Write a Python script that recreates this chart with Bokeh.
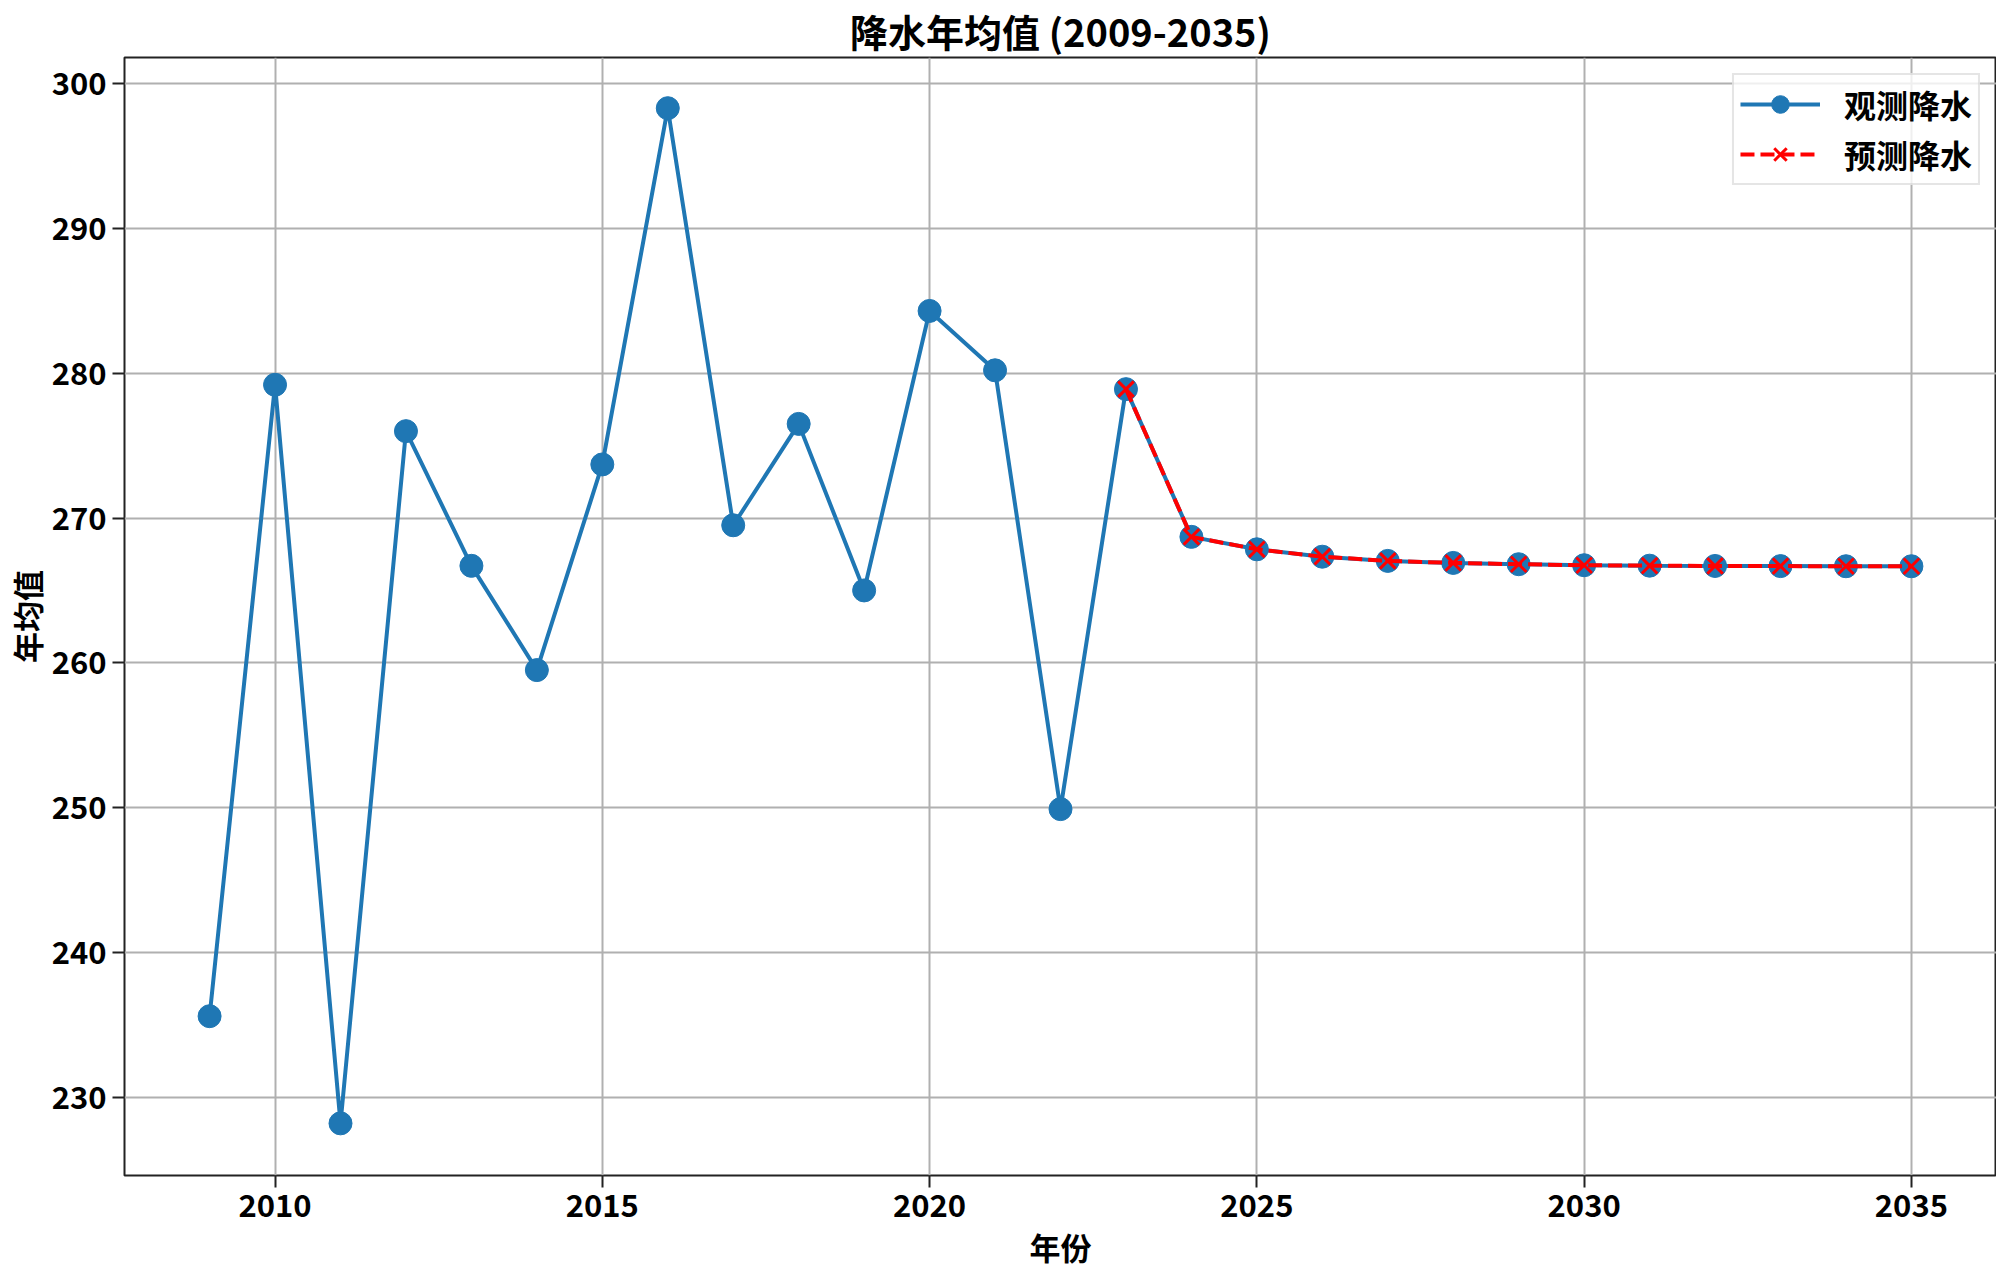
from bokeh.plotting import figure
from bokeh.models import FixedTicker, Range1d, Legend, LegendItem
from bokeh.embed import file_html
from bokeh.resources import INLINE

years_obs = list(range(2009, 2036))
precip_obs = [235.6, 279.2, 228.2, 276.0, 266.7, 259.5, 273.7, 298.3, 269.5,
              276.5, 265.0, 284.3, 280.2, 249.9, 278.9, 268.7, 267.84, 267.33,
              267.04, 266.9, 266.81, 266.74, 266.71, 266.69, 266.68, 266.67, 266.67]
years_fc = list(range(2023, 2036))
precip_fc = [278.9, 268.7, 267.84, 267.33, 267.04, 266.9, 266.81, 266.74,
             266.71, 266.69, 266.68, 266.67, 266.67]
x_ticks = [2010, 2015, 2020, 2025, 2030, 2035]
y_ticks = [230, 240, 250, 260, 270, 280, 290, 300]

title_text = "降水年均值 (2009-2035)"
x_label = "年份"
y_label = "年均值"
obs_label = "观测降水"
fc_label = "预测降水"

FONT = "Noto Sans CJK SC"
BLUE = "#1f77b4"

p = figure(output_backend="svg", toolbar_location=None,
           frame_width=1872, frame_height=1118,
           min_border_left=112, min_border_right=0,
           min_border_top=48, min_border_bottom=90,
           x_range=Range1d(2007.7, 2036.3), y_range=Range1d(224.6, 301.8),
           title=title_text)

p.title.text_font = FONT
p.title.text_font_size = "38px"
p.title.text_font_style = "bold"
p.title.align = "center"
p.title.text_color = "black"
p.title.standoff = 0

p.outline_line_color = "#222222"
p.outline_line_width = 2
p.outline_line_alpha = 1

for ax in (p.xaxis[0], p.yaxis[0]):
    ax.axis_line_color = None
    ax.major_tick_line_color = "#222222"
    ax.major_tick_line_width = 2
    ax.major_tick_out = 12
    ax.major_tick_in = 0
    ax.minor_tick_line_color = None
    ax.major_label_text_font = FONT
    ax.major_label_text_font_size = "31px"
    ax.major_label_text_font_style = "bold"
    ax.major_label_text_color = "black"
    ax.axis_label_text_font = FONT
    ax.axis_label_text_font_size = "31px"
    ax.axis_label_text_font_style = "bold"
    ax.axis_label_text_color = "black"

p.xaxis[0].ticker = FixedTicker(ticks=x_ticks)
p.yaxis[0].ticker = FixedTicker(ticks=y_ticks)
p.xaxis[0].axis_label = x_label
p.yaxis[0].axis_label = y_label
p.xaxis[0].major_label_standoff = 6
p.yaxis[0].major_label_standoff = 6
p.xaxis[0].axis_label_standoff = 4
p.yaxis[0].axis_label_standoff = 0

p.xgrid.grid_line_color = "#b0b0b0"
p.ygrid.grid_line_color = "#b0b0b0"
p.xgrid.grid_line_width = 2
p.ygrid.grid_line_width = 2
p.xgrid.ticker = FixedTicker(ticks=x_ticks)
p.ygrid.ticker = FixedTicker(ticks=y_ticks)

l1 = p.line(years_obs, precip_obs, line_color=BLUE, line_width=4)
s1 = p.scatter(years_obs, precip_obs, marker="circle", size=23,
               fill_color=BLUE, line_color=BLUE)
l2 = p.line(years_fc, precip_fc, line_color="red", line_width=4, line_dash="14 6")
s2 = p.scatter(years_fc, precip_fc, marker="x", size=22,
               line_color="red", line_width=3)

legend = Legend(items=[LegendItem(label=obs_label, renderers=[l1, s1]),
                       LegendItem(label=fc_label, renderers=[l2, s2])],
                location="top_right")
legend.label_text_font = FONT
legend.label_text_font_size = "32px"
legend.label_text_font_style = "bold"
legend.label_text_color = "black"
legend.glyph_width = 80
legend.glyph_height = 44
legend.label_standoff = 24
legend.spacing = 4
legend.padding = 6
legend.margin = 16
legend.border_line_color = "#cccccc"
legend.border_line_width = 2
legend.background_fill_alpha = 0.8
p.add_layout(legend)

open("out.html", "w").write(file_html(p, INLINE))
